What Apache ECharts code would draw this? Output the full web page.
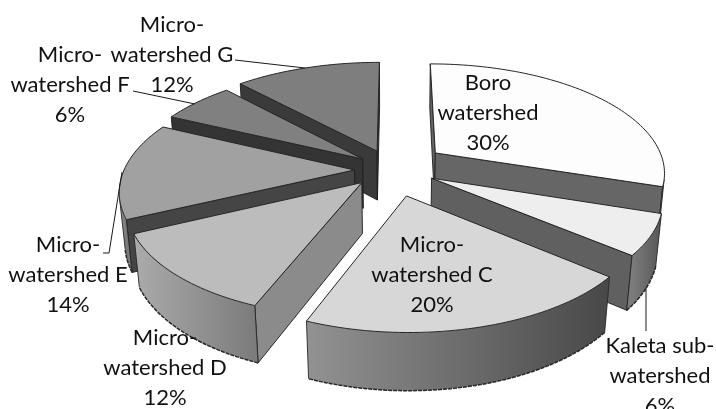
<!DOCTYPE html>
<html>
<head>
<meta charset="utf-8">
<style>html,body{margin:0;padding:0;background:#fff;overflow:hidden}#chart{width:716px;height:409px}</style>
<script src="https://cdn.jsdelivr.net/npm/echarts@6/dist/echarts.min.js"></script>
</head>
<body>
<div id="chart"></div>
<script>
// Share of area by watershed unit, clockwise from twelve o'clock.
const categories = ['Boro\nwatershed', 'Kaleta sub-\nwatershed', 'Micro-\nwatershed C', 'Micro-\nwatershed D',
  'Micro-\nwatershed E', 'Micro-\nwatershed F', 'Micro-\nwatershed G'];
const shares = [30, 6, 20, 12, 14, 6, 12];

// Per-slice greys: top face, curved wall (left to right), radial walls.
const topFill = ['#fdfdfd', '#eeeeee', '#d7d7d7', '#bcbcbc', '#a1a1a1', '#808080', '#7e7e7e'];
const rimLeft = ['#777777', '#7c7c7c', '#929292', '#ababab', '#939393', '#6a6a6a', '#5a5a5a'];
const rimRight = ['#555555', '#565656', '#484848', '#7c7c7c', '#7a7a7a', '#555555', '#4a4a4a'];
const wallFill = ['#666666', '#606060', '#5a5a5a', '#8b8b8b', '#454545', '#343434', '#3a3a3a'];

// Label centres and leader lines in page pixels.
const labelCentres = [[488, 113], [660, 376], [432, 275], [165, 368], [68, 275], [70, 85], [172, 55]];
const leaders = [
  [[646, 288], [646, 331]],
  [[103, 253], [109, 253], [122, 172]],
  [[133, 91], [195, 104]],
  [[235, 60], [305, 68]]
];

// Perspective model of the exploded disc, with per-slice fine placement.
const view = { cx: 396, cy: 170, a: 234, b: 110, depth: 51, tilt: 0.172, sag: 0.02, explode: 0.19 };
const sliceShift = [[4, -5], [-4, -2], [-1, 5], [-3, -3], [3, 0], [2, 1], [-3, 0]];
const sliceScale = [0.98, 0.955, 0.965, 0.965, 0.985, 1, 1];

function project(x, y, z) {
  const w = 1 + view.tilt * y + view.sag * z;
  return [view.cx + view.a * x / w, view.cy + (-view.b * y + view.depth * z) / w];
}
function signedArea(pts) {
  let s = 0;
  pts.forEach((p, i) => {
    const q = pts[(i + 1) % pts.length];
    s += p[0] * q[1] - q[0] * p[1];
  });
  return s;
}

const total = shares.reduce((s, v) => s + v, 0);
let running = 0;
const slices = shares.map((v, i) => {
  const start = running / total * Math.PI * 2;
  running += v;
  const end = running / total * Math.PI * 2;
  const mid = (start + end) / 2;
  return { i, start, end, mid, ox: Math.sin(mid) * view.explode, oy: Math.cos(mid) * view.explode };
});
// Farther slices are painted first.
const paintRank = slices.slice().sort((p, q) => q.oy - p.oy).map(s => s.i);

function renderSlice(params, api) {
  const idx = api.value(1);
  const s = slices[idx];
  const base = paintRank.indexOf(idx) * 1000 + 10;
  const r = sliceScale[idx];
  const shift = p => [p[0] + sliceShift[idx][0], p[1] + sliceShift[idx][1]];
  const rim = (t, z) => shift(project(s.ox + r * Math.sin(t), s.oy + r * Math.cos(t), z));
  const hub = z => shift(project(s.ox, s.oy, z));
  const kids = [];
  let z2 = base;
  const poly = (points, fill, stroke, lw) => kids.push({
    type: 'polygon', z2: z2++, shape: { points },
    style: { fill, stroke: stroke || null, lineWidth: lw || 0, lineJoin: 'round' }
  });
  const line = (points, stroke, lw, dash) => kids.push({
    type: 'polyline', z2: z2++, shape: { points },
    style: { fill: null, stroke, lineWidth: lw, lineDash: dash || null }
  });

  // Radial walls that face the viewer.
  [[hub(0), rim(s.start, 0), rim(s.start, 1), hub(1)], [rim(s.end, 0), hub(0), hub(1), rim(s.end, 1)]].forEach(q => {
    if (signedArea(q) < 0) poly(q, wallFill[idx], '#1c1c1c', 0.9);
  });

  // Curved wall: keep the stretch facing the viewer and shade it across its width.
  const steps = Math.ceil((s.end - s.start) / 0.025);
  const upper = [], lower = [];
  for (let k = 0; k < steps; k++) {
    const t0 = s.start + (s.end - s.start) * k / steps;
    const t1 = s.start + (s.end - s.start) * (k + 1) / steps;
    const q = [rim(t0, 0), rim(t1, 0), rim(t1, 1), rim(t0, 1)];
    if (signedArea(q) < 0) {
      if (!upper.length) { upper.push(q[0]); lower.push(q[3]); }
      upper.push(q[1]);
      lower.push(q[2]);
    }
  }
  if (upper.length) {
    const xs = upper.map(p => p[0]);
    const lo = Math.min.apply(null, xs), hi = Math.max.apply(null, xs);
    poly(upper.concat(lower.slice().reverse()), {
      type: 'linear', global: true, x: lo, y: 0, x2: hi, y2: 0,
      colorStops: [{ offset: 0, color: rimLeft[idx] }, { offset: 1, color: rimRight[idx] }]
    });
    line(lower, '#262626', 1.5, [4, 1]);
    line([upper[0], lower[0]], '#262626', 0.9);
    line([upper[upper.length - 1], lower[lower.length - 1]], '#262626', 0.9);
  }

  // Top face.
  const face = [hub(0)];
  for (let k = 0; k <= steps; k++) face.push(rim(s.start + (s.end - s.start) * k / steps, 0));
  poly(face, topFill[idx], '#262626', 1);

  return { type: 'group', children: kids };
}

function renderText() {
  const kids = categories.map((name, i) => ({
    type: 'text', z2: 90000,
    style: {
      text: name + '\n' + shares[i] + '%', x: labelCentres[i][0], y: labelCentres[i][1],
      align: 'center', verticalAlign: 'middle', fill: '#111111', lineHeight: 30,
      font: '22px Lato, "Open Sans", sans-serif'
    }
  }));
  leaders.forEach(points => kids.push({
    type: 'polyline', z2: 89000, shape: { points },
    style: { fill: null, stroke: '#1a1a1a', lineWidth: 1 }
  }));
  return { type: 'group', children: kids };
}

const chart = echarts.init(document.getElementById('chart'), null, { renderer: 'canvas' });
chart.setOption({
  animation: false,
  backgroundColor: '#ffffff',
  series: [
    {
      type: 'custom', coordinateSystem: 'none', silent: true,
      renderItem: renderSlice,
      data: shares.map((v, i) => [v, i])
    },
    {
      type: 'custom', coordinateSystem: 'none', silent: true, z: 5,
      renderItem: () => renderText(),
      data: [[0]]
    }
  ]
});
</script>
</body>
</html>
